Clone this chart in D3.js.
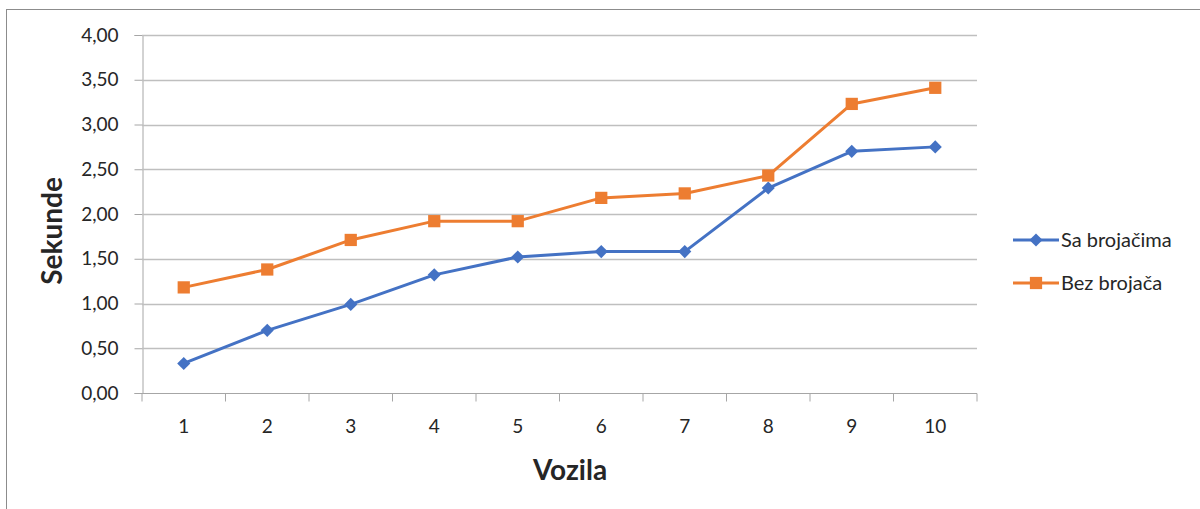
<!DOCTYPE html>
<html>
<head>
<meta charset="utf-8">
<script src="https://cdn.jsdelivr.net/npm/d3@7"></script>
<style>
  body { margin: 0; background: #fff; }
  svg text { font-family: Lato, "Open Sans", sans-serif; fill: #262626; }
</style>
</head>
<body>
<div id="chart"></div>
<script>
const categories = ['1', '2', '3', '4', '5', '6', '7', '8', '9', '10'];
const saBrojacima = [0.33, 0.70, 0.99, 1.32, 1.52, 1.58, 1.58, 2.29, 2.70, 2.75];
const bezBrojaca = [1.18, 1.38, 1.71, 1.92, 1.92, 2.18, 2.23, 2.43, 3.23, 3.41];
const yTicks = [0, 0.5, 1, 1.5, 2, 2.5, 3, 3.5, 4];
const seriesNames = ['Sa brojačima', 'Bez brojača'];

const W = 1200, H = 509;
const margin = {top: 35, left: 142, right: 223, bottom: 116};
const width = W - margin.left - margin.right;
const height = H - margin.top - margin.bottom;

const svg = d3.select('#chart').append('svg')
  .attr('width', W)
  .attr('height', H);

// outer chart border (only top and left visible in the frame)
svg.append('rect')
  .attr('x', 6.5).attr('y', 9.5)
  .attr('width', W + 20).attr('height', H + 20)
  .attr('fill', 'none')
  .attr('stroke', '#8c8c8c')
  .attr('stroke-width', 1);

const g = svg.append('g')
  .attr('transform', 'translate(' + margin.left + ',' + margin.top + ')');

const x = d3.scaleBand()
  .domain(categories)
  .range([0, width]);
const y = d3.scaleLinear()
  .domain([0, 4])
  .range([height, 0]);

const fmt = d => d.toFixed(2).replace('.', ',');

// grid + y axis
const yAxis = g.append('g')
  .attr('transform', 'translate(0.5,0)')
  .call(d3.axisLeft(y).tickValues(yTicks).tickFormat(fmt).tickSize(8).tickPadding(16))
  .call(a => a.select('.domain').attr('stroke', '#a6a6a6'));
yAxis.selectAll('.tick line').attr('stroke', '#a6a6a6');
yAxis.selectAll('.tick text')
  .attr('font-size', 19)
  .attr('font-family', 'Lato, sans-serif')
  .attr('fill', '#262626');

g.append('g')
  .selectAll('line')
  .data(yTicks.filter(d => d > 0))
  .enter().append('line')
  .attr('x1', 0).attr('x2', width)
  .attr('y1', d => Math.round(y(d)) + 0.5)
  .attr('y2', d => Math.round(y(d)) + 0.5)
  .attr('stroke', '#bfbfbf')
  .attr('stroke-width', 1.3);

// x axis with ticks between categories
const xAxis = g.append('g')
  .attr('transform', 'translate(0,' + (Math.round(height) + 0.5) + ')');
xAxis.append('line')
  .attr('x1', 0).attr('x2', width)
  .attr('stroke', '#a6a6a6');
xAxis.selectAll('.tk')
  .data(categories.concat(['end']))
  .enter().append('line')
  .attr('x1', (d, i) => i < categories.length ? x(d) : width)
  .attr('x2', (d, i) => i < categories.length ? x(d) : width)
  .attr('y1', 0).attr('y2', 8)
  .attr('stroke', '#a6a6a6');
xAxis.selectAll('.lbl')
  .data(categories)
  .enter().append('text')
  .text(d => d)
  .attr('x', d => x(d) + x.bandwidth() / 2)
  .attr('y', 39)
  .attr('text-anchor', 'middle')
  .attr('font-size', 19);

// lines
const line = d3.line()
  .x((d, i) => x(categories[i]) + x.bandwidth() / 2)
  .y(d => y(d));

const series = [
  {name: seriesNames[0], values: saBrojacima, color: '#4472C4', marker: d3.symbolDiamond2, size: 110},
  {name: seriesNames[1], values: bezBrojaca, color: '#ED7D31', marker: d3.symbolSquare, size: 150}
];

series.forEach(s => {
  g.append('path')
    .datum(s.values)
    .attr('d', line)
    .attr('fill', 'none')
    .attr('stroke', s.color)
    .attr('stroke-width', 3)
    .attr('stroke-linejoin', 'round');
  g.selectAll(null)
    .data(s.values)
    .enter().append('path')
    .attr('d', d3.symbol().type(s.marker).size(s.size))
    .attr('transform', (d, i) => 'translate(' + (x(categories[i]) + x.bandwidth() / 2) + ',' + y(d) + ')')
    .attr('fill', s.color);
});

// legend
const legend = svg.append('g').attr('transform', 'translate(1013,240)');
series.forEach((s, i) => {
  const row = legend.append('g').attr('transform', 'translate(0,' + (i * 43) + ')');
  row.append('line')
    .attr('x1', 0).attr('x2', 46)
    .attr('stroke', s.color).attr('stroke-width', 3);
  row.append('path')
    .attr('d', d3.symbol().type(s.marker).size(s.size)())
    .attr('transform', 'translate(23,0)')
    .attr('fill', s.color);
  row.append('text')
    .text(s.name)
    .attr('x', 48)
    .attr('dy', '0.35em')
    .attr('font-size', 20);
});

// axis titles
svg.append('text')
  .text('Vozila')
  .attr('x', 570)
  .attr('y', 480)
  .attr('text-anchor', 'middle')
  .attr('font-size', 28)
  .attr('font-weight', 'bold')
  .attr('fill', '#000');

svg.append('g')
  .attr('transform', 'translate(62,231)')
  .append('text')
  .text('Sekunde')
  .attr('text-anchor', 'middle')
  .attr('font-size', 28)
  .attr('font-weight', 'bold')
  .attr('fill', '#000')
  .attr('transform', 'rotate(-90)');
</script>
</body>
</html>
